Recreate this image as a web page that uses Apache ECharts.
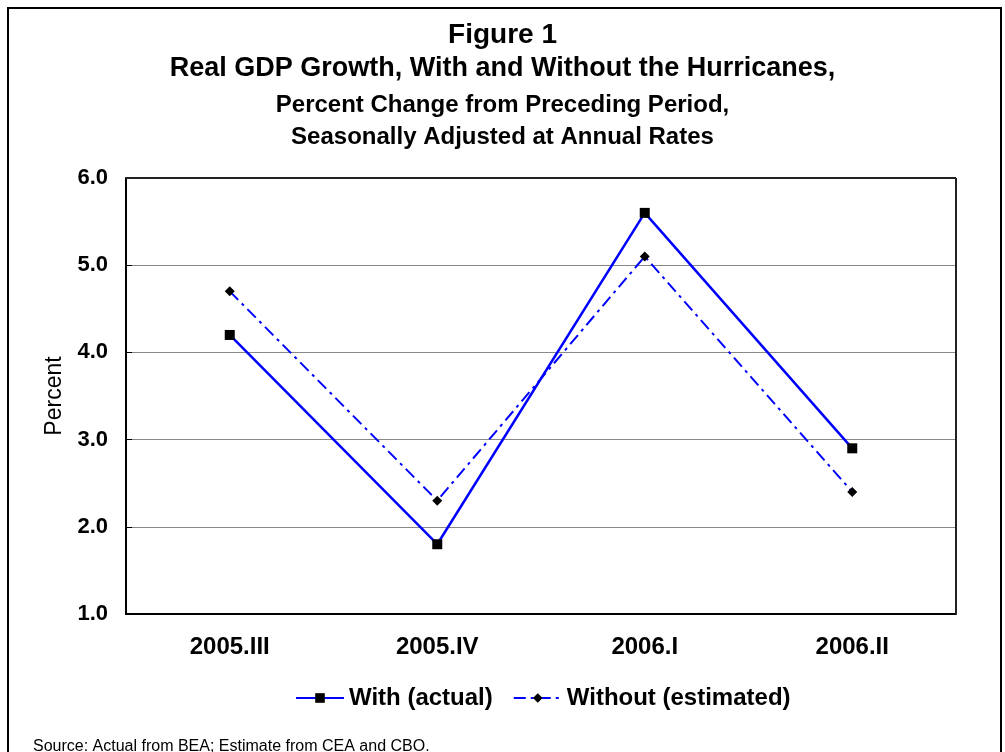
<!DOCTYPE html>
<html>
<head>
<meta charset="utf-8">
<script src="https://cdn.jsdelivr.net/npm/echarts@6/dist/echarts.min.js"></script>
<style>
  html, body { margin: 0; padding: 0; background: #fff; }
  #chart { width: 1005px; height: 752px; }
</style>
</head>
<body>
<div id="chart"></div>
<script>
const quarters = ['2005.III', '2005.IV', '2006.I', '2006.II']
const withActual = [4.2, 1.8, 5.6, 2.9]
const withoutEstimated = [4.7, 2.3, 5.1, 2.4]
const seriesNames = ['With (actual)', 'Without (estimated)']

const FONT = '"Liberation Sans", Arial, sans-serif'

const chart = echarts.init(document.getElementById('chart'), null, { renderer: 'canvas' })

chart.setOption({
  animation: false,
  backgroundColor: '#fff',
  textStyle: { fontFamily: FONT },
  title: [
    { text: 'Figure 1', left: 'center', top: 16, textStyle: { fontFamily: FONT, fontSize: 28, fontWeight: 'bold', color: '#000' } },
    { text: 'Real GDP Growth, With and Without the Hurricanes,', left: 'center', top: 50, textStyle: { fontFamily: FONT, fontSize: 27, fontWeight: 'bold', color: '#000' } },
    { text: 'Percent Change from Preceding Period,', left: 'center', top: 88, textStyle: { fontFamily: FONT, fontSize: 24, fontWeight: 'bold', color: '#000' } },
    { text: 'Seasonally Adjusted at Annual Rates', left: 'center', top: 120, textStyle: { fontFamily: FONT, fontSize: 24, fontWeight: 'bold', color: '#000' } },
    { text: 'Source: Actual from BEA; Estimate from CEA and CBO.', left: 28, top: 734, textStyle: { fontFamily: FONT, fontSize: 16, fontWeight: 'normal', color: '#000' } }
  ],
  graphic: [{
    type: 'rect',
    shape: { x: 8, y: 8, width: 993, height: 780 },
    style: { fill: 'none', stroke: '#000', lineWidth: 2 },
    silent: true
  }],
  legend: {
    data: seriesNames,
    left: 290,
    top: 681,
    itemWidth: 48,
    itemHeight: 12,
    itemGap: 20,
    textStyle: { fontFamily: FONT, fontSize: 24, fontWeight: 'bold', color: '#000' }
  },
  grid: { left: 126, right: 49, top: 178, bottom: 138, containLabel: false },
  xAxis: {
    type: 'category',
    data: quarters,
    boundaryGap: true,
    axisLine: { lineStyle: { color: '#000', width: 2 } },
    axisTick: { inside: true, alignWithLabel: true, length: 8, lineStyle: { color: '#000' } },
    axisLabel: { fontFamily: FONT, fontSize: 24, fontWeight: 'bold', color: '#000', margin: 21 }
  },
  yAxis: {
    type: 'value',
    min: 1,
    max: 6,
    interval: 1,
    name: 'Percent',
    nameLocation: 'middle',
    nameGap: 58,
    nameTextStyle: { fontFamily: FONT, fontSize: 23, color: '#000' },
    axisLine: { show: true, lineStyle: { color: '#000', width: 2 } },
    axisTick: { show: true, inside: true, length: 6, lineStyle: { color: '#000' } },
    axisLabel: { fontFamily: FONT, fontSize: 22, fontWeight: 'bold', color: '#000', margin: 18, formatter: v => v.toFixed(1) },
    splitLine: { show: true, lineStyle: { color: '#888', width: 1 } }
  },
  series: [
    {
      name: seriesNames[0],
      type: 'line',
      data: withActual,
      symbol: 'rect',
      symbolSize: 10,
      lineStyle: { color: '#0000ff', width: 2.5 },
      itemStyle: { color: '#000' },
      z: 3
    },
    {
      name: seriesNames[1],
      type: 'line',
      data: withoutEstimated,
      symbol: 'diamond',
      symbolSize: 10,
      lineStyle: { color: '#0000ff', width: 2, type: [12, 5, 3, 5] },
      itemStyle: { color: '#000' },
      z: 2
    },
    {
      // top and right border of plot area
      type: 'line',
      data: [],
      markLine: {
        silent: true,
        symbol: 'none',
        label: { show: false },
        lineStyle: { color: '#222', width: 2, type: 'solid' },
        data: [[{ x: 126, y: 178 }, { x: 956, y: 178 }], [{ x: 956, y: 178 }, { x: 956, y: 614 }]]
      }
    }
  ]
})
</script>
</body>
</html>
